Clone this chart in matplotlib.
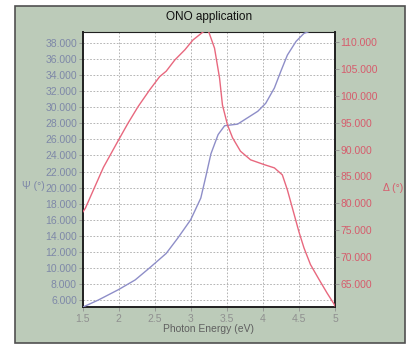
import matplotlib
matplotlib.use("Agg")
import matplotlib.pyplot as plt
from matplotlib.patches import Rectangle
from matplotlib.ticker import FormatStrFormatter

plt.rcParams["font.family"] = ["Liberation Sans", "DejaVu Sans"]

# Psi (deg) vs photon energy
energy_psi = [1.5, 1.72, 2.0, 2.23, 2.43, 2.66, 2.82, 3.0, 3.14, 3.21, 3.28,
              3.38, 3.47, 3.56, 3.65, 3.79, 3.93, 4.04, 4.16, 4.25, 4.34, 4.46,
              4.57, 4.66, 4.8]
psi = [5.1, 6.0, 7.3, 8.5, 10.0, 11.8, 13.7, 16.0, 18.7, 21.4, 24.2,
       26.6, 27.7, 27.8, 27.9, 28.7, 29.5, 30.5, 32.4, 34.5, 36.5, 38.2,
       39.2, 39.5, 40.0]

# Delta (deg) vs photon energy
energy_delta = [1.5, 1.54, 1.79, 2.0, 2.13, 2.27, 2.43, 2.57, 2.66, 2.78, 2.92,
                3.03, 3.17, 3.24, 3.33, 3.4, 3.44, 3.51, 3.58, 3.69, 3.83, 4.02,
                4.16, 4.27, 4.34, 4.41, 4.5, 4.57, 4.66, 4.78, 4.89, 4.98, 5.0]
delta = [78.3, 79.1, 86.7, 91.8, 94.9, 98.0, 101.1, 103.6, 104.6, 106.7, 108.6,
         110.4, 111.9, 112.3, 108.9, 103.3, 98.3, 94.6, 92.2, 89.7, 88.1, 87.2,
         86.6, 85.3, 82.5, 79.1, 74.7, 71.7, 68.6, 65.8, 63.3, 61.4, 60.9]

x_ticks = [1.5, 2, 2.5, 3, 3.5, 4, 4.5, 5]
psi_ticks = list(range(6, 39, 2))
delta_ticks = list(range(65, 111, 5))

bg = "#bccbb9"
blue = "#8e8ec8"
red = "#e8687e"
blue_txt = "#7e88a8"
red_txt = "#d65c6c"

fig = plt.figure(figsize=(4.11, 3.45), dpi=100)
fig.patch.set_facecolor("white")
panel = Rectangle((15 / 411, 2 / 345), 390 / 411, 337 / 345,
                  transform=fig.transFigure, facecolor=bg,
                  edgecolor="#505050", linewidth=1.2, zorder=-5)
fig.add_artist(panel)

ax = fig.add_axes([82.5 / 411, 38 / 345, 252.5 / 411, 275 / 345])
ax.set_zorder(1)
ax.set_facecolor("white")
ax.plot(energy_psi, psi, color=blue, lw=1.0, zorder=3)
ax.set_xlim(1.5, 5)
ax.set_ylim(5.13, 39.37)
ax.set_xticks(x_ticks)
ax.set_xticklabels([f"{t:g}" for t in x_ticks], color="#707070", fontsize=7.5)
ax.set_yticks(psi_ticks)
ax.yaxis.set_major_formatter(FormatStrFormatter("%.3f"))
ax.tick_params(axis="y", colors="#909090", labelcolor=blue_txt, labelsize=7.5,
               length=3, width=0.6, pad=1)
ax.tick_params(axis="x", colors="#909090", length=3, width=0.6, pad=2)
ax.grid(True, color="#a8a8a8", linestyle=(0, (2, 2)), linewidth=0.6)
ax.set_axisbelow(True)
ax.set_xlabel("Photon Energy (eV)", fontsize=7.5, color="#606060", labelpad=0)
ax.set_ylabel("Ψ (°)", fontsize=7.5, color=blue_txt, rotation=0,
              ha="center", va="center")
ax.yaxis.set_label_coords(-0.194, 0.44)
for side in ["left", "bottom", "right", "top"]:
    ax.spines[side].set_color("#202020")
ax.spines["left"].set_linewidth(1.4)
ax.spines["bottom"].set_linewidth(1.4)
ax.spines["right"].set_linewidth(1.4)
ax.spines["top"].set_linewidth(0.8)

ax2 = ax.twinx()
ax2.set_zorder(2)
ax2.patch.set_visible(False)
ax2.plot(energy_delta, delta, color=red, lw=1.0, zorder=3)
ax2.set_ylim(60.7, 111.9)
ax2.set_yticks(delta_ticks)
ax2.yaxis.set_major_formatter(FormatStrFormatter("%.3f"))
ax2.tick_params(axis="y", colors="#909090", labelcolor=red_txt, labelsize=7.5,
                length=3, width=0.6, pad=1)
ax2.set_ylabel("Δ (°)", fontsize=7.5, color=red_txt, rotation=0,
               ha="center", va="center")
ax2.yaxis.set_label_coords(1.229, 0.433)
for side in ["left", "bottom", "right", "top"]:
    ax2.spines[side].set_visible(False)

fig.text(209 / 411, 1 - 17 / 345, "ONO application", ha="center", va="center",
         fontsize=8.5, color="#111111")

fig.savefig("out.png", dpi=100, facecolor="white")
